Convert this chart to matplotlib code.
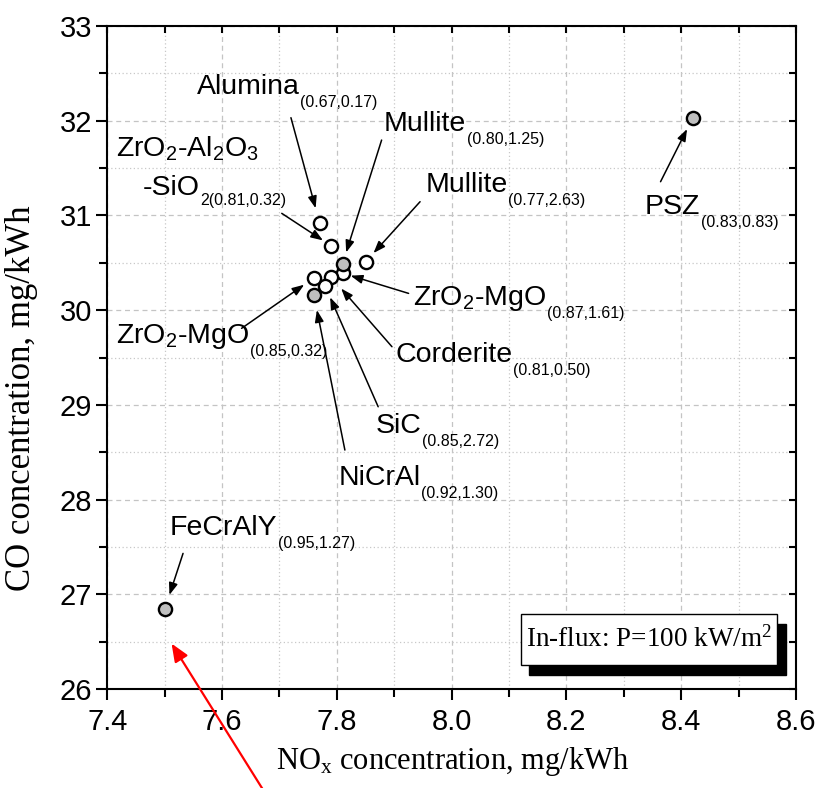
import matplotlib
matplotlib.use("Agg")
import matplotlib.pyplot as plt
import matplotlib.patches as mpatches
from matplotlib import font_manager
from matplotlib.ticker import MultipleLocator, FormatStrFormatter

# ---- data: emissions for each support material ----
main_labels = ["Alumina", "Mullite", "Mullite", "ZrO2-Al2O3-SiO2", "PSZ",
               "ZrO2-MgO", "Corderite", "SiC", "NiCrAl", "ZrO2-MgO", "FeCrAlY"]
pair_labels = ["(0.67,0.17)", "(0.80,1.25)", "(0.77,2.63)", "2(0.81,0.32)",
               "(0.83,0.83)", "(0.87,1.61)", "(0.81,0.50)", "(0.85,2.72)",
               "(0.92,1.30)", "(0.85,0.32)", "(0.95,1.27)"]
nox = [7.77, 7.81, 7.85, 7.79, 8.42, 7.81, 7.79, 7.78, 7.76, 7.76, 7.50]
co = [30.92, 30.49, 30.51, 30.68, 32.03, 30.39, 30.35, 30.25, 30.16, 30.34, 26.84]
metallic_or_grey = [False, True, False, False, True, False, False, False, True, False, True]

x_ticks = [7.4, 7.6, 7.8, 8.0, 8.2, 8.4, 8.6]
y_ticks = [26, 27, 28, 29, 30, 31, 32, 33]

# ---- layout of the callouts (label baseline-left, arrow tail, gap at marker) ----
label_text = [
    "Alumina", "Mullite", "Mullite", "-SiO", "PSZ",
    r"ZrO$_\mathregular{2}$-MgO", "Corderite", "SiC", "NiCrAl",
    r"ZrO$_\mathregular{2}$-MgO", "FeCrAlY",
]
label_pos = [(7.556, 32.279), (7.882, 31.894), (7.954, 31.250), (7.462, 31.215),
             (8.337, 31.015), (7.933, 30.054), (7.902, 29.455), (7.868, 28.699),
             (7.803, 28.153), (7.416, 29.649), (7.509, 27.625)]
tail_pos = [(7.720, 32.032), (7.878, 31.796), (7.945, 31.145), (7.704, 31.022),
            (8.364, 31.356), (7.925, 30.177), (7.896, 29.614), (7.872, 28.980),
            (7.814, 28.523), (7.634, 29.808), (7.532, 27.432)]
gap_pts = [11, 8.5, 8.5, 7, 9, 6, 11, 8.5, 11, 8.5, 11]

available = {f.name for f in font_manager.fontManager.ttflist}
label_family = "Liberation Sans Narrow" if "Liberation Sans Narrow" in available else "Liberation Sans"
narrow = label_family == "Liberation Sans Narrow"
main_size = 22 if narrow else 20.5
sub_size = 13.5 if narrow else 11.5
serif = "Liberation Serif"

plt.rcParams["font.family"] = ["Liberation Sans", "DejaVu Sans"]
plt.rcParams["mathtext.default"] = "regular"

fig = plt.figure(figsize=(8.19, 7.88), dpi=100)
ax = fig.add_axes([0.131, 0.1256, 0.8409, 0.8414])

ax.set_xlim(7.4, 8.6)
ax.set_ylim(26, 33)
ax.xaxis.set_major_locator(MultipleLocator(0.2))
ax.xaxis.set_minor_locator(MultipleLocator(0.1))
ax.yaxis.set_major_locator(MultipleLocator(1))
ax.yaxis.set_minor_locator(MultipleLocator(0.5))
ax.set_xticks(x_ticks)
ax.set_yticks(y_ticks)
ax.xaxis.set_major_formatter(FormatStrFormatter("%.1f"))
ax.yaxis.set_major_formatter(FormatStrFormatter("%d"))

# grid: dashed majors, dotted minors
ax.grid(which="major", color="#c4c4c4", linestyle=(0, (4, 3)), linewidth=0.9)
ax.grid(which="minor", color="#c8c8c8", linestyle=(0, (1, 2)), linewidth=0.9)
ax.set_axisbelow(True)

for s in ax.spines.values():
    s.set_linewidth(1.5)
ax.tick_params(which="both", direction="out", width=1.5, labelsize=21,
               top=True, right=True)
ax.tick_params(which="major", length=8)
ax.tick_params(which="minor", length=6)
ax.tick_params(axis="x", which="both", pad=6)
ax.tick_params(axis="y", which="both", pad=3)
# inward ticks on the top and right frame
for tl in ax.xaxis.get_ticklines(minor=False)[1::2] + ax.xaxis.get_ticklines(minor=True)[1::2]:
    tl.set_marker(3)
    tl.set_markersize(5)
for tl in ax.yaxis.get_ticklines(minor=False)[1::2] + ax.yaxis.get_ticklines(minor=True)[1::2]:
    tl.set_marker(0)
    tl.set_markersize(5)

# markers: open ones first, grey ones on top
for filled_pass in (False, True):
    for x, y, f in zip(nox, co, metallic_or_grey):
        if f == filled_pass:
            ax.plot(x, y, "o", ms=9.5, mew=1.7, mec="black",
                    mfc="#c0c0c0" if f else "white", zorder=4 if f else 3)

# callouts
arrow_style = dict(arrowstyle="-|>,head_length=0.6,head_width=0.22", color="black",
                   lw=1.1, mutation_scale=12, shrinkA=0)
for i in range(len(nox)):
    t = ax.text(label_pos[i][0], label_pos[i][1], label_text[i], ha="left",
                va="baseline", fontsize=main_size, family=label_family, zorder=6)
    sub_dy = -4 if i == 3 else -6
    ax.annotate(pair_labels[i], xy=(1, label_pos[i][1]), xycoords=(t, "data"),
                xytext=(0.5, sub_dy), textcoords="offset points", ha="left",
                va="center", fontsize=sub_size, family=label_family, zorder=6)
    ax.annotate("", xy=(nox[i], co[i]), xytext=tail_pos[i],
                arrowprops=dict(arrow_style, shrinkB=gap_pts[i]), zorder=5)

# first line of the three-oxide label
ax.text(7.415, 31.620, r"ZrO$_\mathregular{2}$-Al$_\mathregular{2}$O$_\mathregular{3}$",
        ha="left", va="baseline", fontsize=main_size, family=label_family, zorder=6)

# red pointer rising from below the axis
ax.annotate("", xy=(7.512, 26.48), xytext=(7.670, 24.95),
            arrowprops=dict(arrowstyle="-|>,head_length=0.6,head_width=0.25",
                            color="red", lw=1.6, mutation_scale=18,
                            shrinkA=0, shrinkB=0),
            annotation_clip=False, zorder=7)

# condition box with drop shadow
shadow = mpatches.Rectangle((0.613, 0.021), 0.372, 0.077, transform=ax.transAxes,
                            facecolor="black", edgecolor="black", zorder=8, clip_on=False)
box = mpatches.Rectangle((0.601, 0.036), 0.372, 0.077, transform=ax.transAxes,
                         facecolor="white", edgecolor="black", lw=1.0, zorder=9, clip_on=False)
ax.add_patch(shadow)
ax.add_patch(box)
ax.text(0.787, 0.0745, r"In-flux: P=100 kW/m$^\mathregular{2}$", transform=ax.transAxes,
        ha="center", va="center", fontsize=19.5, family=serif, zorder=10)

ax.set_xlabel(r"NO$_\mathregular{x}$ concentration, mg/kWh", family=serif, fontsize=22)
ax.xaxis.set_label_coords(0.5016, -0.085)
ax.set_ylabel("CO concentration, mg/kWh", family=serif, fontsize=25)
ax.yaxis.set_label_coords(-0.100, 0.439)

fig.savefig("out.png", dpi=100)
